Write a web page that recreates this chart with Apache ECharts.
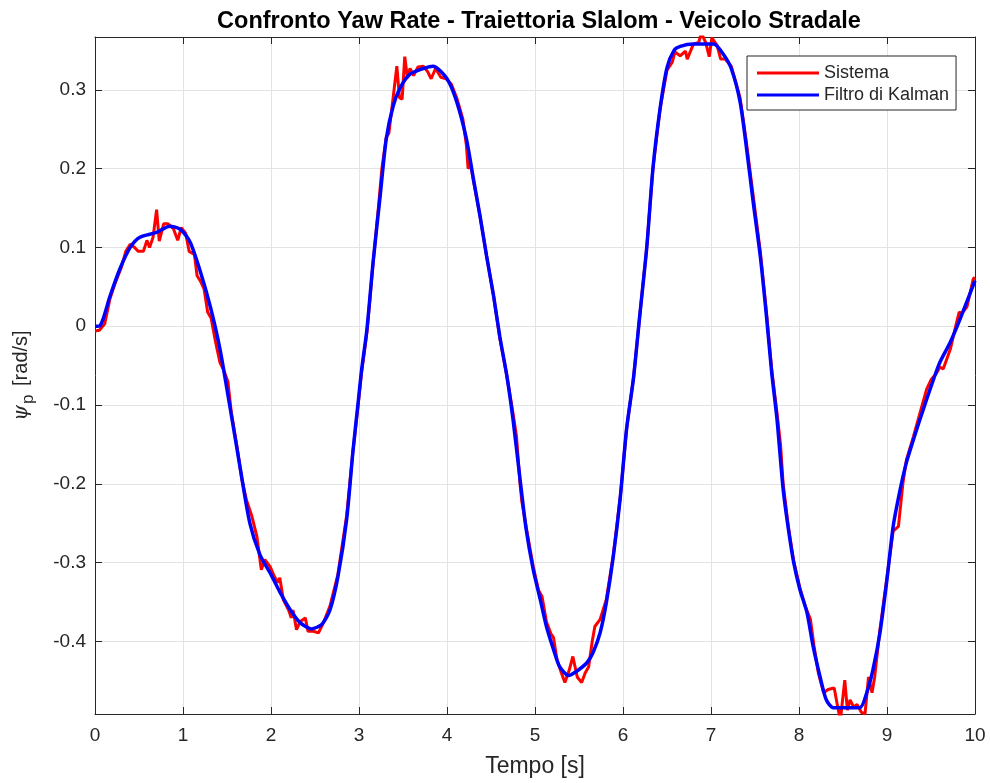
<!DOCTYPE html>
<html>
<head>
<meta charset="utf-8">
<script src="https://cdn.jsdelivr.net/npm/echarts@6/dist/echarts.min.js"></script>
<style>html,body{margin:0;padding:0;background:#fff;}#c{width:990px;height:783px;}</style>
</head>
<body>
<div id="c"></div>
<script>
const titleText = 'Confronto Yaw Rate - Traiettoria Slalom - Veicolo Stradale';
const xName = 'Tempo [s]';
const seriesNames = ['Sistema', 'Filtro di Kalman'];
const xTicks = [0,1,2,3,4,5,6,7,8,9,10];

const tSistema = [0,0.05,0.11,0.17,0.23,0.30,0.35,0.40,0.45,0.49,0.55,0.59,0.62,0.66,0.70,0.73,0.78,0.83,0.89,0.94,0.98,1.03,1.07,1.13,1.16,1.20,1.24,1.28,1.32,1.37,1.42,1.46,1.51,1.55,1.61,1.67,1.72,1.78,1.84,1.89,1.93,1.99,2.04,2.08,2.10,2.14,2.20,2.23,2.25,2.29,2.33,2.39,2.42,2.48,2.54,2.60,2.67,2.76,2.86,2.93,2.99,3.03,3.09,3.16,3.22,3.26,3.31,3.34,3.39,3.43,3.46,3.49,3.52,3.55,3.58,3.62,3.67,3.73,3.78,3.82,3.87,3.93,3.99,4.05,4.11,4.18,4.22,4.24,4.27,4.30,4.375,4.45,4.53,4.60,4.68,4.75,4.79,4.83,4.85,4.90,4.98,5.04,5.08,5.13,5.18,5.21,5.25,5.30,5.34,5.39,5.43,5.48,5.53,5.57,5.61,5.65,5.68,5.74,5.81,5.89,5.97,6.04,6.12,6.19,6.27,6.34,6.42,6.50,6.56,6.59,6.65,6.71,6.73,6.80,6.86,6.89,6.94,6.98,7.01,7.07,7.11,7.16,7.23,7.33,7.40,7.48,7.56,7.63,7.69,7.75,7.79,7.82,7.88,7.94,8.01,8.07,8.13,8.17,8.22,8.28,8.33,8.40,8.44,8.47,8.52,8.55,8.58,8.62,8.66,8.71,8.75,8.79,8.83,8.86,8.92,9.00,9.07,9.13,9.18,9.22,9.30,9.38,9.45,9.50,9.56,9.60,9.64,9.72,9.78,9.82,9.85,9.91,9.98,10.0];
const ySistema = [-0.006,-0.005,0.003,0.035,0.055,0.075,0.095,0.104,0.100,0.095,0.095,0.109,0.100,0.113,0.148,0.108,0.130,0.130,0.124,0.109,0.125,0.118,0.095,0.091,0.064,0.057,0.047,0.018,0.010,-0.020,-0.046,-0.055,-0.070,-0.110,-0.150,-0.195,-0.220,-0.240,-0.267,-0.309,-0.296,-0.305,-0.318,-0.325,-0.319,-0.347,-0.360,-0.370,-0.360,-0.385,-0.375,-0.370,-0.387,-0.387,-0.389,-0.375,-0.355,-0.315,-0.240,-0.160,-0.100,-0.058,-0.008,0.080,0.150,0.200,0.240,0.245,0.292,0.330,0.290,0.288,0.342,0.315,0.327,0.318,0.329,0.330,0.323,0.314,0.327,0.316,0.314,0.307,0.290,0.263,0.230,0.200,0.205,0.185,0.140,0.089,0.038,-0.015,-0.063,-0.110,-0.140,-0.200,-0.222,-0.255,-0.305,-0.335,-0.343,-0.375,-0.390,-0.395,-0.423,-0.440,-0.452,-0.436,-0.419,-0.445,-0.452,-0.440,-0.432,-0.400,-0.381,-0.372,-0.347,-0.290,-0.216,-0.131,-0.065,0.013,0.100,0.200,0.275,0.325,0.335,0.348,0.343,0.349,0.339,0.358,0.360,0.372,0.360,0.342,0.366,0.356,0.339,0.339,0.330,0.290,0.235,0.165,0.095,0.018,-0.055,-0.110,-0.150,-0.200,-0.255,-0.298,-0.332,-0.355,-0.372,-0.405,-0.440,-0.465,-0.461,-0.459,-0.483,-0.500,-0.449,-0.487,-0.474,-0.483,-0.480,-0.490,-0.492,-0.445,-0.465,-0.445,-0.385,-0.318,-0.260,-0.254,-0.200,-0.170,-0.140,-0.108,-0.080,-0.068,-0.060,-0.052,-0.054,-0.029,0.000,0.018,0.016,0.025,0.060,0.062];

const tKalman = [0,0.06,0.17,0.28,0.40,0.51,0.70,0.85,0.97,1.08,1.19,1.31,1.42,1.53,1.65,1.76,1.875,1.99,2.10,2.22,2.33,2.46,2.58,2.67,2.76,2.86,2.93,2.99,3.03,3.09,3.16,3.24,3.31,3.39,3.47,3.58,3.73,3.84,4.00,4.11,4.22,4.30,4.375,4.45,4.53,4.60,4.68,4.75,4.83,4.90,4.98,5.06,5.13,5.21,5.28,5.38,5.47,5.59,5.66,5.74,5.81,5.89,5.97,6.04,6.12,6.19,6.27,6.34,6.42,6.50,6.58,6.65,6.80,7.03,7.14,7.23,7.33,7.40,7.48,7.56,7.63,7.69,7.75,7.82,7.88,7.94,8.01,8.09,8.16,8.24,8.31,8.39,8.69,8.77,8.84,8.92,9.00,9.07,9.15,9.22,9.30,9.375,9.45,9.53,9.60,9.72,9.83,10.0];
const yKalman = [0,0.001,0.038,0.072,0.100,0.113,0.119,0.127,0.123,0.107,0.072,0.025,-0.029,-0.100,-0.180,-0.250,-0.290,-0.313,-0.337,-0.360,-0.376,-0.384,-0.378,-0.360,-0.318,-0.245,-0.160,-0.097,-0.055,-0.004,0.081,0.165,0.238,0.280,0.303,0.320,0.327,0.330,0.314,0.285,0.238,0.187,0.140,0.089,0.038,-0.013,-0.063,-0.118,-0.194,-0.258,-0.309,-0.347,-0.381,-0.410,-0.432,-0.443,-0.438,-0.427,-0.414,-0.389,-0.351,-0.292,-0.216,-0.131,-0.065,0.013,0.100,0.200,0.275,0.328,0.350,0.355,0.358,0.358,0.345,0.327,0.285,0.229,0.157,0.089,0.013,-0.059,-0.118,-0.207,-0.258,-0.300,-0.334,-0.363,-0.406,-0.445,-0.474,-0.484,-0.484,-0.465,-0.436,-0.389,-0.321,-0.254,-0.207,-0.173,-0.144,-0.118,-0.093,-0.067,-0.046,-0.020,0.009,0.058];

const yMin = -0.492, yMax = 0.367;

const sistemaData = tSistema.map((t, i) => [t, ySistema[i]]);
const kalmanData = tKalman.map((t, i) => [t, yKalman[i]]);

const axisColor = '#262626';
const gridColor = '#e3e3e3';
const font = 'Liberation Sans';

const chart = echarts.init(document.getElementById('c'), null, {renderer: 'canvas'});
chart.setOption({
  backgroundColor: '#ffffff',
  animation: false,
  title: {
    text: titleText,
    left: 534, top: 5, textAlign: 'center',
    textStyle: {fontFamily: font, fontSize: 23.5, fontWeight: 'bold', color: '#000'}
  },
  legend: {
    orient: 'vertical',
    left: 747, top: 56,
    padding: [8, 7, 6, 10],
    itemGap: 4,
    itemWidth: 62, itemHeight: 3,
    backgroundColor: '#fff',
    borderColor: axisColor, borderWidth: 1,
    textStyle: {fontFamily: font, fontSize: 18, color: axisColor},
    data: [{name: seriesNames[0], icon: 'rect'}, {name: seriesNames[1], icon: 'rect'}]
  },
  grid: {left: 95, right: 15, top: 37, bottom: 69, containLabel: false},
  xAxis: [{
    type: 'value', min: 0, max: 10, interval: 1,
    name: xName, nameLocation: 'middle', nameGap: 41,
    nameTextStyle: {fontFamily: font, fontSize: 23, color: axisColor},
    axisLine: {show: true, onZero: false, lineStyle: {color: axisColor, width: 1}},
    axisTick: {show: true, inside: true, length: 7, lineStyle: {color: axisColor}},
    axisLabel: {fontFamily: font, fontSize: 19, color: axisColor, margin: 12, formatter: v => xTicks.includes(v) ? String(v) : ''},
    splitLine: {show: true, lineStyle: {color: gridColor, width: 1}}
  }, {
    type: 'value', min: 0, max: 10, interval: 1, position: 'top',
    axisLine: {show: true, onZero: false, lineStyle: {color: axisColor, width: 1}},
    axisTick: {show: true, inside: true, length: 7, lineStyle: {color: axisColor}},
    axisLabel: {show: false}, splitLine: {show: false}
  }],
  yAxis: [{
    type: 'value', min: yMin, max: yMax, splitNumber: 9,
    name: '{i|ψ}{s|p} [rad/s]', nameLocation: 'middle', nameGap: 58,
    nameTextStyle: {
      fontFamily: font, fontSize: 20, color: axisColor,
      rich: {
        i: {fontFamily: 'DejaVu Serif', fontStyle: 'italic', fontSize: 20, color: axisColor},
        s: {fontFamily: font, fontSize: 17, color: axisColor, padding: [14, 3, 0, 1]}
      }
    },
    axisLine: {show: true, onZero: false, lineStyle: {color: axisColor, width: 1}},
    axisTick: {show: true, inside: true, length: 7, lineStyle: {color: axisColor}},
    axisLabel: {fontFamily: font, fontSize: 19, color: axisColor, margin: 9, showMinLabel: false, showMaxLabel: false},
    splitLine: {show: true, lineStyle: {color: gridColor, width: 1}}
  }, {
    type: 'value', min: yMin, max: yMax, splitNumber: 9, position: 'right',
    axisLine: {show: true, onZero: false, lineStyle: {color: axisColor, width: 1}},
    axisTick: {show: true, inside: true, length: 7, lineStyle: {color: axisColor}},
    axisLabel: {show: false}, splitLine: {show: false}
  }],
  series: [{
    name: seriesNames[0], type: 'line', data: sistemaData,
    xAxisIndex: 0, yAxisIndex: 0,
    showSymbol: false, symbol: 'none', clip: true,
    color: '#ff0000',
    lineStyle: {color: '#ff0000', width: 3}
  }, {
    name: seriesNames[1], type: 'line', data: kalmanData,
    xAxisIndex: 0, yAxisIndex: 0,
    showSymbol: false, symbol: 'none', clip: true,
    smooth: 0.25,
    color: '#0000ff',
    lineStyle: {color: '#0000ff', width: 3.5}
  }]
});
</script>
</body>
</html>
